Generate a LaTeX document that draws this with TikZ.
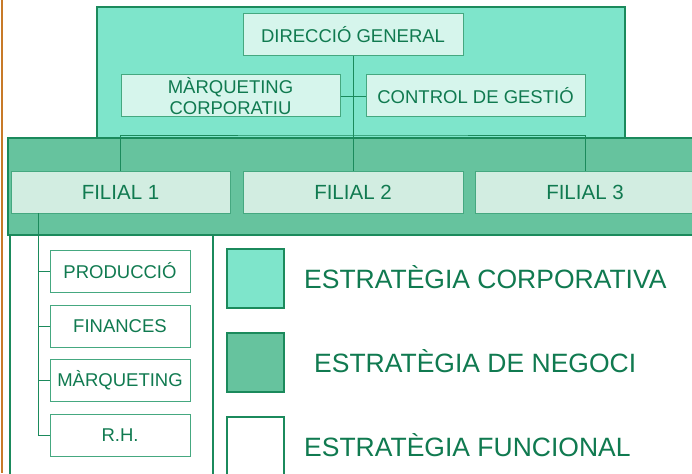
\documentclass[tikz,border=0pt]{standalone}
\usepackage{fontspec}
\setmainfont{Liberation Sans}
\definecolor{edgegreen}{HTML}{1B8A5C}
\definecolor{boxedge}{HTML}{45A880}
\definecolor{txtgreen}{HTML}{107A50}
\definecolor{corpfill}{HTML}{7EE5CB}
\definecolor{negfill}{HTML}{66C39E}
\definecolor{corpbox}{HTML}{D6F5EC}
\definecolor{negbox}{HTML}{D2EDE1}
\definecolor{slideedge}{HTML}{C87A28}
\tikzset{
    level/.style={draw=edgegreen,line width=1.6pt},
    orgbox/.style={draw=boxedge,line width=1pt,inner sep=0pt,align=center,
        text=txtgreen,font=\fontsize{18.5}{21}\selectfont,
        minimum width=219pt,minimum height=42pt},
    funcbox/.style={orgbox,fill=white,minimum width=140pt},
    link/.style={draw=edgegreen,line width=0.8pt},
    legtext/.style={anchor=west,text=txtgreen,inner sep=0pt,
        font=\fontsize{26.5}{30}\selectfont},
}
\newcommand\LegendEntry[3]{%
    \node[level,fill=#2,minimum width=57pt,minimum height=59pt,inner sep=0pt]
        (sq#1) at (255.5,#3) {};
}

\begin{document}
\begin{tikzpicture}[x=1pt,y=-1pt]
    \clip (0,0) rectangle (692,473);
    \fill[white] (0,0) rectangle (692,473);
    \draw[slideedge,line width=2pt] (2,0) -- (2,473);
    % levels
    \draw[level,fill=corpfill] (97,7) rectangle (625,138);
    \draw[level,fill=negfill] (8,138) rectangle (700,235);
    \draw[level,fill=white] (10,235) rectangle (213,480);
    % corporate
    \node[orgbox,fill=corpbox,minimum width=220pt] (dir) at (353,35) {DIRECCIÓ GENERAL};
    \node[orgbox,fill=corpbox] (mkt) at (230.5,96) {MÀRQUETING\\CORPORATIU};
    \node[orgbox,fill=corpbox] (ctl) at (475.5,96) {CONTROL DE GESTIÓ};
    % business
    \node[orgbox,fill=negbox,font=\fontsize{20.5}{23}\selectfont] (fil1) at (120.5,192) {FILIAL 1};
    \node[orgbox,fill=negbox,font=\fontsize{20.5}{23}\selectfont,minimum width=220pt] (fil2) at (353,192) {FILIAL 2};
    \node[orgbox,fill=negbox,font=\fontsize{20.5}{23}\selectfont,minimum width=220pt] (fil3) at (585,192) {FILIAL 3};
    % functional
    \node[funcbox] (prod) at (120,271) {PRODUCCIÓ};
    \node[funcbox] (fin) at (120,326) {FINANCES};
    \node[funcbox] (mrq) at (120,380) {MÀRQUETING};
    \node[funcbox] (rh) at (120,435) {R.H.};
    % links
    \coordinate (bus) at (353,135);
    \coordinate (trunk) at (38,213);
    \draw[link] (dir.south) -- (fil2.north);
    \draw[link] (mkt.east) -- (ctl.west);
    \draw[link] (fil1.north) |- (bus) -| (fil3.north);
    \draw[link] (trunk) |- (rh.west);
    \foreach \n in {prod,fin,mrq}
        \draw[link] (trunk |- \n.west) -- (\n.west);
    % legend
    \LegendEntry{1}{corpfill}{278.5}
    \LegendEntry{2}{negfill}{362.5}
    \LegendEntry{3}{white}{446.5}
    \node[legtext] (leg1) at (304,277) {ESTRATÈGIA CORPORATIVA};
    \node[legtext] (leg2) at (314,361) {ESTRATÈGIA DE NEGOCI};
    \node[legtext] (leg3) at (304,445) {ESTRATÈGIA FUNCIONAL};
\end{tikzpicture}
\end{document}
